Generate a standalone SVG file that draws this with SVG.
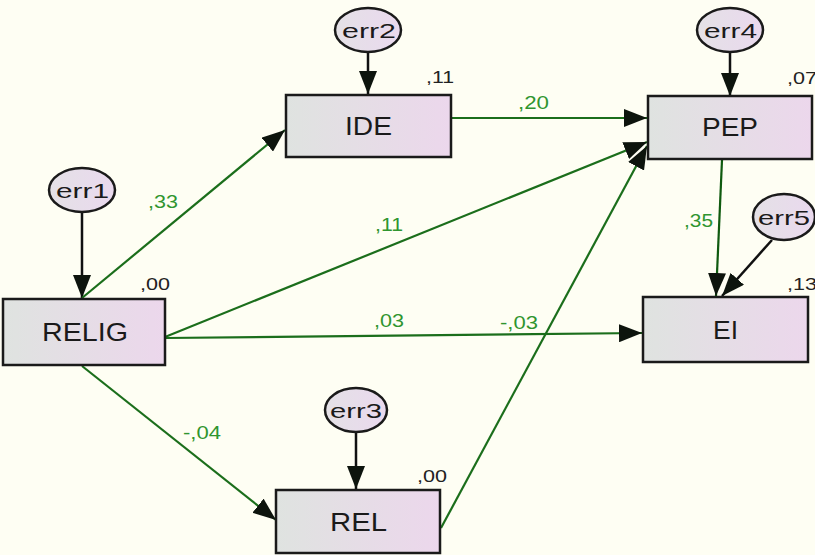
<svg xmlns="http://www.w3.org/2000/svg" width="815" height="555" viewBox="0 0 815 555">
  <style>
    .box { fill: url(#boxFill); stroke: #1a1a1a; stroke-width: 2.5; }
    .err { fill: url(#errFill); stroke: #1a1a1a; stroke-width: 2.5; }
    .name { font-family: "Liberation Sans", Arial, sans-serif; font-size: 25px; fill: #1a1a1a; }
    .ename { font-family: "Liberation Sans", Arial, sans-serif; font-size: 21px; fill: #1a1a1a; }
    .r2 { font-family: "Liberation Sans", Arial, sans-serif; font-size: 17px; fill: #222; }
    .coef { font-family: "Liberation Sans", Arial, sans-serif; font-size: 18px; fill: #2f952f; }
    .path { stroke: #1b6e1b; stroke-width: 2.2; fill: none; marker-end: url(#head); }
    .errpath { stroke: #111; stroke-width: 2.5; fill: none; marker-end: url(#head); }
  </style>
  <defs>
    <linearGradient id="boxFill" x1="0" y1="0" x2="1" y2="0">
      <stop offset="0" stop-color="#dfe3e0"/>
      <stop offset="1" stop-color="#ecd7ec"/>
    </linearGradient>
    <linearGradient id="errFill" x1="0" y1="0" x2="1" y2="0">
      <stop offset="0" stop-color="#e4e1e6"/>
      <stop offset="1" stop-color="#ead9ee"/>
    </linearGradient>
    <marker id="head" markerUnits="userSpaceOnUse" markerWidth="24" markerHeight="18" refX="23" refY="9" orient="auto">
      <path d="M0,0 L23,9 L0,18 z" fill="#0d140d"/>
    </marker>
  </defs>

  <rect width="815" height="555" fill="#fefef3"/>

  <!-- connectors -->
  <g id="connectors">
    <line class="errpath" x1="82" y1="212" x2="82" y2="298"/>
    <line class="errpath" x1="368" y1="52" x2="368" y2="94"/>
    <line class="errpath" x1="356" y1="432" x2="356" y2="489"/>
    <line class="errpath" x1="730" y1="52" x2="730" y2="96"/>
    <line class="errpath" x1="772" y1="240" x2="722" y2="296"/>
    <line class="path" x1="82" y1="298" x2="285" y2="130"/>
    <line class="path" x1="165" y1="337" x2="647" y2="142"/>
    <line class="path" x1="165" y1="338" x2="642" y2="333"/>
    <line class="path" x1="82" y1="366" x2="276" y2="520"/>
    <line class="path" x1="452" y1="118" x2="647" y2="118"/>
    <line class="path" x1="441" y1="528" x2="647" y2="146"/>
    <line class="path" x1="722" y1="160" x2="716" y2="296" style="stroke:#0f5a0f"/>
  </g>

  <!-- path coefficients -->
  <g id="coefficients">
    <text class="coef" x="148" y="208" textLength="30" lengthAdjust="spacingAndGlyphs">,33</text>
    <text class="coef" x="375" y="231" textLength="28" lengthAdjust="spacingAndGlyphs">,11</text>
    <text class="coef" x="374" y="327" textLength="30" lengthAdjust="spacingAndGlyphs">,03</text>
    <text class="coef" x="500" y="329" textLength="38" lengthAdjust="spacingAndGlyphs">-,03</text>
    <text class="coef" x="183" y="439" textLength="38" lengthAdjust="spacingAndGlyphs">-,04</text>
    <text class="coef" x="518" y="109" textLength="31" lengthAdjust="spacingAndGlyphs">,20</text>
    <text class="coef" x="684" y="227" textLength="29" lengthAdjust="spacingAndGlyphs">,35</text>
  </g>

  <g id="RELIG">
    <rect class="box" x="3" y="299" width="162" height="66"/>
    <text class="name" x="42" y="341" textLength="86" lengthAdjust="spacingAndGlyphs">RELIG</text>
    <text class="r2" x="140" y="290" textLength="30" lengthAdjust="spacingAndGlyphs">,00</text>
  </g>
  <g id="IDE">
    <rect class="box" x="286" y="95" width="165" height="62"/>
    <text class="name" x="345" y="135" textLength="47" lengthAdjust="spacingAndGlyphs">IDE</text>
    <text class="r2" x="426" y="83" textLength="28" lengthAdjust="spacingAndGlyphs">,11</text>
  </g>
  <g id="PEP">
    <rect class="box" x="648" y="96" width="164" height="63"/>
    <text class="name" x="702" y="136" textLength="56" lengthAdjust="spacingAndGlyphs">PEP</text>
    <text class="r2" x="787" y="84" textLength="30" lengthAdjust="spacingAndGlyphs">,07</text>
  </g>
  <g id="EI">
    <rect class="box" x="643" y="297" width="165" height="65"/>
    <text class="name" x="713" y="339" textLength="25" lengthAdjust="spacingAndGlyphs">EI</text>
    <text class="r2" x="787" y="290" textLength="30" lengthAdjust="spacingAndGlyphs">,13</text>
  </g>
  <g id="REL">
    <rect class="box" x="276" y="490" width="164" height="63"/>
    <text class="name" x="330" y="531" textLength="57" lengthAdjust="spacingAndGlyphs">REL</text>
    <text class="r2" x="417" y="482" textLength="30" lengthAdjust="spacingAndGlyphs">,00</text>
  </g>

  <g id="err1">
    <ellipse class="err" cx="82" cy="190" rx="33" ry="22"/>
    <text class="ename" x="56" y="198" textLength="53" lengthAdjust="spacingAndGlyphs">err1</text>
  </g>
  <g id="err2">
    <ellipse class="err" cx="368" cy="30" rx="33" ry="22"/>
    <text class="ename" x="342" y="38" textLength="54" lengthAdjust="spacingAndGlyphs">err2</text>
  </g>
  <g id="err3">
    <ellipse class="err" cx="356" cy="410" rx="31" ry="22"/>
    <text class="ename" x="330" y="418" textLength="52" lengthAdjust="spacingAndGlyphs">err3</text>
  </g>
  <g id="err4">
    <ellipse class="err" cx="730" cy="30" rx="33" ry="22"/>
    <text class="ename" x="704" y="38" textLength="53" lengthAdjust="spacingAndGlyphs">err4</text>
  </g>
  <g id="err5">
    <ellipse class="err" cx="784" cy="217" rx="31" ry="23"/>
    <text class="ename" x="758" y="225" textLength="52" lengthAdjust="spacingAndGlyphs">err5</text>
  </g>
</svg>
